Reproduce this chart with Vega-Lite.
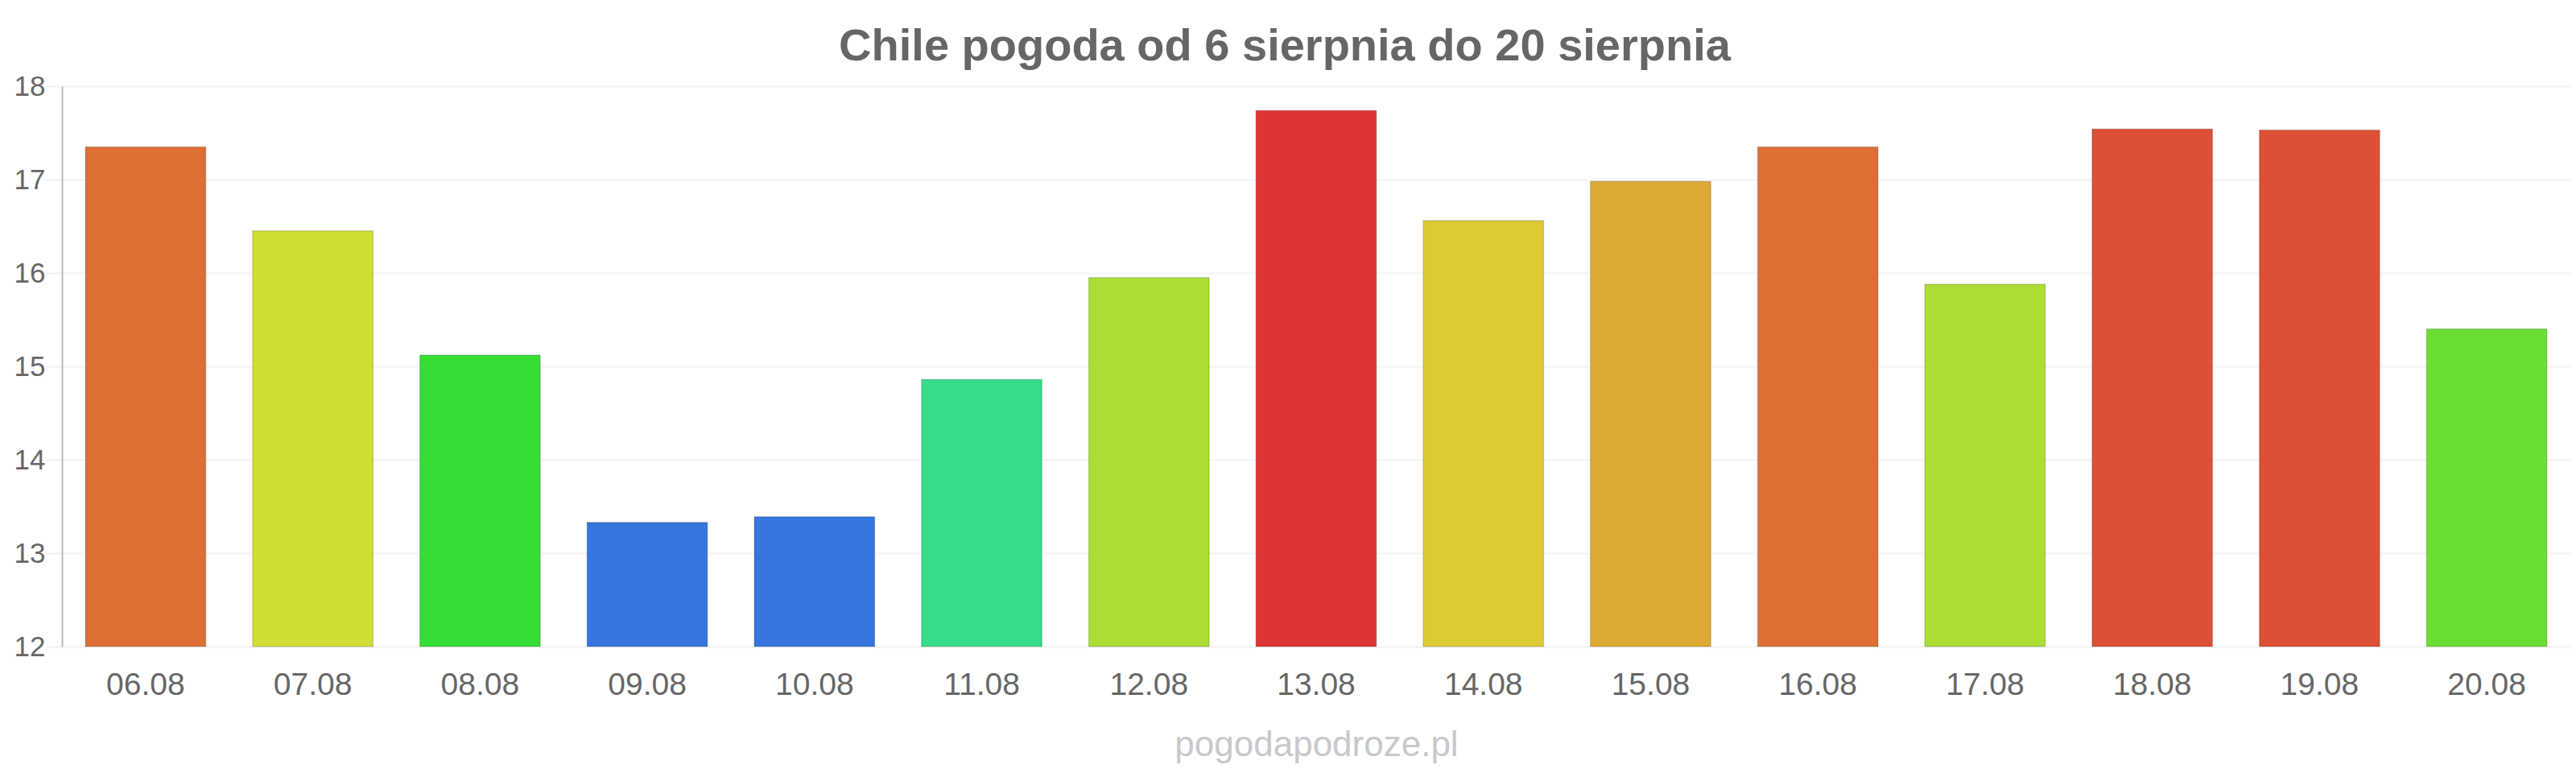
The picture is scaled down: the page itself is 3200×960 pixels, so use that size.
{
  "$schema": "https://vega.github.io/schema/vega-lite/v6.json",
  "width": 3116,
  "height": 696,
  "autosize": {"type": "none"},
  "padding": {"left": 77, "top": 107, "right": 7, "bottom": 157},
  "background": "white",
  "title": {
    "text": "Chile pogoda od 6 sierpnia do 20 sierpnia",
    "fontSize": 56,
    "fontWeight": "bold",
    "color": "#666666",
    "anchor": "middle",
    "frame": "group",
    "baseline": "alphabetic",
    "offset": 34,
    "dx": -39,
    "dy": 75
  },
  "data": {
    "values": [
      {"day": "06.08", "temp": 17.35},
      {"day": "07.08", "temp": 16.45},
      {"day": "08.08", "temp": 15.12},
      {"day": "09.08", "temp": 13.33},
      {"day": "10.08", "temp": 13.39},
      {"day": "11.08", "temp": 14.86},
      {"day": "12.08", "temp": 15.95},
      {"day": "13.08", "temp": 17.74},
      {"day": "14.08", "temp": 16.56},
      {"day": "15.08", "temp": 16.98},
      {"day": "16.08", "temp": 17.35},
      {"day": "17.08", "temp": 15.88},
      {"day": "18.08", "temp": 17.54},
      {"day": "19.08", "temp": 17.53},
      {"day": "20.08", "temp": 15.40}
    ]
  },
  "mark": {"type": "bar", "stroke": "#000000", "strokeOpacity": 0.15, "strokeWidth": 1.5},
  "encoding": {
    "x": {
      "field": "day",
      "type": "nominal",
      "sort": null,
      "scale": {"paddingInner": 0.28, "paddingOuter": 0.14},
      "axis": {
        "title": "pogodapodroze.pl",
        "titleColor": "#c8c8cc",
        "titleFontSize": 44,
        "titleFontWeight": "normal",
        "titlePadding": 33,
        "labelAngle": 0,
        "labelFontSize": 39,
        "labelColor": "#666666",
        "labelPadding": 28,
        "domain": false,
        "ticks": false,
        "tickSize": 0
      }
    },
    "y": {
      "field": "temp",
      "type": "quantitative",
      "scale": {"domain": [12, 18], "zero": false, "nice": false},
      "axis": {
        "title": null,
        "values": [12, 13, 14, 15, 16, 17, 18],
        "labelFontSize": 35,
        "labelColor": "#666666",
        "labelPadding": 1,
        "domainColor": "#bbbbbb",
        "domainWidth": 2,
        "tickColor": "#f0f0f0",
        "tickSize": 20,
        "tickWidth": 2,
        "gridColor": "#f3f3f3",
        "gridWidth": 2
      }
    },
    "y2": {"datum": 12},
    "color": {
      "field": "day",
      "type": "nominal",
      "legend": null,
      "scale": {
        "domain": ["06.08", "07.08", "08.08", "09.08", "10.08", "11.08", "12.08", "13.08", "14.08", "15.08", "16.08", "17.08", "18.08", "19.08", "20.08"],
        "range": ["#dd6f35", "#d0dd35", "#35dd35", "#3575dd", "#3575dd", "#35dd8a", "#abdd35", "#dd3535", "#ddca35", "#dda935", "#dd6f35", "#abdd35", "#dd5035", "#dd5035", "#6add35"]
      }
    }
  },
  "config": {
    "font": "Liberation Sans",
    "view": {"stroke": null}
  }
}
